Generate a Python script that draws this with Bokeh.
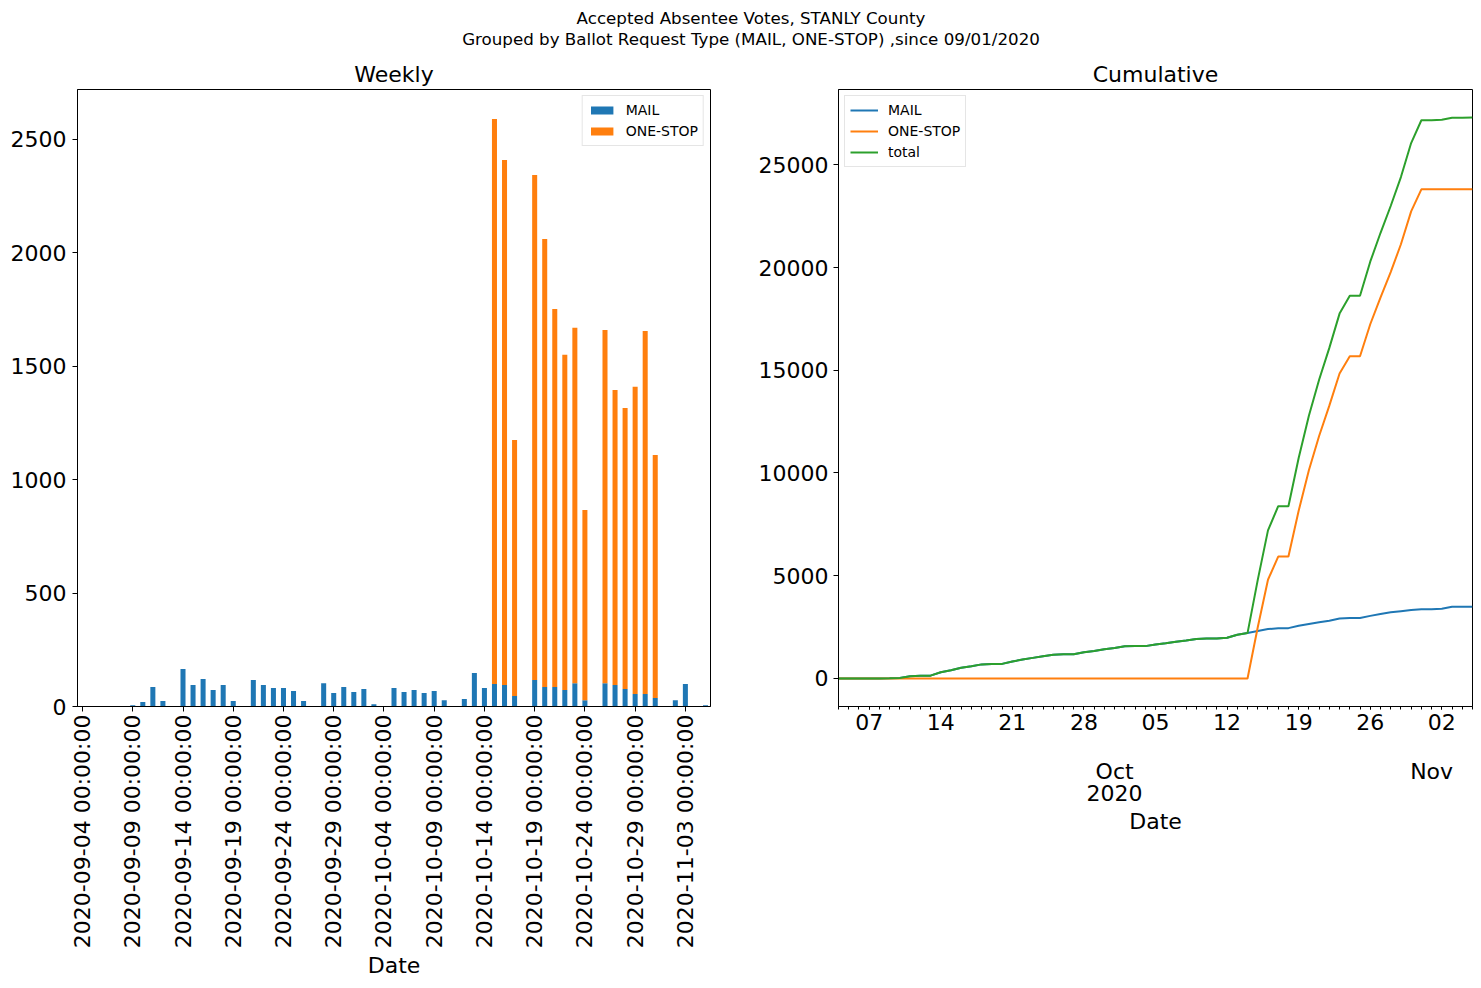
import math
import numpy as np
import pandas as pd
from bokeh.plotting import figure
from bokeh.layouts import column, row
from bokeh.models import (Range1d, FixedTicker, LinearAxis, Legend, LegendItem,
                          Div, ColumnDataSource)
from bokeh.embed import file_html
from bokeh.resources import INLINE

# ---------------- data ----------------
start_date = "2020-09-04"
end_date = "2020-11-05"
dates = pd.date_range(start_date, end_date, freq="D")

mail = [0, 0, 0, 0, 0, 6, 20, 86, 24, 0,                 # Sep 4-13
        165, 95, 121, 73, 95, 24, 0,                     # Sep 14-20
        117, 95, 81, 81, 68, 24, 0,                      # Sep 21-27
        103, 59, 86,                                     # Sep 28-30
        64, 77, 10, 0,                                   # Oct 1-4
        81, 64, 73, 59, 68, 28, 0,                       # Oct 5-11
        33, 148, 81, 99, 95, 46, 0,                      # Oct 12-18
        117, 86, 86, 73, 103, 28, 0,                     # Oct 19-25
        103, 95, 77, 55, 55, 37,                         # Oct 26-31
        0, 28, 99, 0, 5]                                 # Nov 1-5

onestop = [0] * 27 + \
          [0] * 14 + \
          [2491, 2314, 1129, 0,                          # Oct 15-18
           2226, 1975, 1666, 1477, 1566, 838, 0,         # Oct 19-25
           1557, 1300, 1239, 1354, 1600, 1072,           # Oct 26-31
           0, 0, 0, 0, 0]                                # Nov 1-5

series_names = ["MAIL", "ONE-STOP"]
colors = ["#1f77b4", "#ff7f0e", "#2ca02c"]
suptitle = ["Accepted Absentee Votes, STANLY County",
            "Grouped by Ballot Request Type (MAIL, ONE-STOP) ,since 09/01/2020"]

FONT = "DejaVu Sans"
TICK_FS = "22px"

mail_a = np.array(mail, dtype=float)
one_a = np.array(onestop, dtype=float)
total_daily = mail_a + one_a
cum_mail = np.cumsum(mail_a)
cum_one = np.cumsum(one_a)
cum_tot = cum_mail + cum_one

TOP = 40
BOT = 280
H = TOP + 617 + BOT


def style_common(p):
    p.background_fill_color = "white"
    p.border_fill_color = "white"
    p.outline_line_color = "black"
    p.outline_line_width = 1
    p.xgrid.visible = False
    p.ygrid.visible = False
    p.title.text_font = FONT
    p.title.text_font_size = TICK_FS
    p.title.text_font_style = "normal"
    p.title.text_color = "black"
    p.title.align = "center"
    p.title.standoff = 5
    for ax in p.axis:
        ax.axis_line_color = "black"
        ax.major_tick_line_color = "black"
        ax.minor_tick_line_color = "black"
        ax.major_tick_in = 0
        ax.minor_tick_in = 0
        ax.major_label_text_font = FONT
        ax.major_label_text_font_size = TICK_FS
        ax.major_label_text_color = "black"
        ax.axis_label_text_font = FONT
        ax.axis_label_text_font_size = TICK_FS
        ax.axis_label_text_font_style = "normal"
        ax.axis_label_text_color = "black"


# ---------------- left: Weekly ----------------
idx = list(range(len(dates)))
src1 = ColumnDataSource(dict(x=idx, MAIL=mail, ONESTOP=onestop))
p1 = figure(width=753, height=H,
            x_range=Range1d(-0.5, len(dates) - 0.5),
            y_range=Range1d(0, float(total_daily.max()) * 1.05),
            output_backend="svg", toolbar_location=None,
            min_border_left=77, min_border_right=43,
            min_border_top=TOP, min_border_bottom=BOT,
            title="Weekly")
rs = p1.vbar_stack(["MAIL", "ONESTOP"], x="x", width=0.5, color=colors[:2],
                   line_width=0, source=src1)
style_common(p1)

xt = list(range(0, len(dates), 5))
p1.xaxis.ticker = FixedTicker(ticks=xt, minor_ticks=[])
p1.xaxis.major_label_overrides = {i: dates[i].strftime("%Y-%m-%d %H:%M:%S") for i in xt}
p1.xaxis.major_label_orientation = math.pi / 2
p1.xaxis.major_tick_out = 5
p1.xaxis.major_label_standoff = 3
p1.xaxis.axis_label = "Date"
p1.xaxis.axis_label_standoff = 2
p1.yaxis.ticker = FixedTicker(ticks=[0, 500, 1000, 1500, 2000, 2500], minor_ticks=[])
p1.yaxis.major_tick_out = 5
p1.yaxis.major_label_standoff = 6

leg1 = Legend(items=[LegendItem(label=series_names[0], renderers=[rs[0]]),
                     LegendItem(label=series_names[1], renderers=[rs[1]])],
              location="top_right")
p1.add_layout(leg1)

# ---------------- right: Cumulative ----------------
src2 = ColumnDataSource(dict(d=dates, m=cum_mail, o=cum_one, t=cum_tot))
span = float(cum_tot.max())
p2 = figure(width=720, height=H, x_axis_type="datetime",
            x_range=Range1d(dates[0], dates[-1]),
            y_range=Range1d(-0.05 * span, 1.05 * span),
            output_backend="svg", toolbar_location=None,
            min_border_left=85, min_border_right=1,
            min_border_top=TOP, min_border_bottom=BOT,
            title="Cumulative")
l1 = p2.line("d", "m", source=src2, line_color=colors[0], line_width=2)
l2 = p2.line("d", "o", source=src2, line_color=colors[1], line_width=2)
l3 = p2.line("d", "t", source=src2, line_color=colors[2], line_width=2)

ms = (dates.asi8 // 10**6).astype(float)
mondays = [m for m, d in zip(ms, dates) if d.weekday() == 0]
mon_labels = {m: d.strftime("%d") for m, d in zip(ms, dates) if d.weekday() == 0}
month_starts = [m for m, d in zip(ms, dates) if d.day == 1]
month_labels = {}
for m, d in zip(ms, dates):
    if d.day == 1:
        month_labels[m] = d.strftime("%b") + ("\n" + d.strftime("%Y") if d.month == 10 else "")

p2.xaxis.ticker = FixedTicker(ticks=mondays, minor_ticks=list(ms))
p2.xaxis.major_label_overrides = mon_labels
ax2 = LinearAxis(ticker=FixedTicker(ticks=month_starts, minor_ticks=[]),
                 major_label_overrides=month_labels)
p2.add_layout(ax2, "below")
style_common(p2)
p2.xaxis[0].major_tick_out = 3
p2.xaxis[0].minor_tick_out = 3
p2.xaxis[0].major_label_standoff = 4
ax2.axis_line_color = None
ax2.major_tick_out = 0
ax2.major_tick_line_color = None
ax2.major_label_standoff = 26
ax2.major_label_text_line_height = 0.88
ax2.axis_label = "Date"
ax2.axis_label_standoff = 0
p2.yaxis.ticker = FixedTicker(ticks=[0, 5000, 10000, 15000, 20000, 25000], minor_ticks=[])
p2.yaxis.major_tick_out = 5
p2.yaxis.major_label_standoff = 5

leg2 = Legend(items=[LegendItem(label="MAIL", renderers=[l1]),
                     LegendItem(label="ONE-STOP", renderers=[l2]),
                     LegendItem(label="total", renderers=[l3])],
              location="top_left")
p2.add_layout(leg2)

for lg in (leg1, leg2):
    lg.label_text_font = FONT
    lg.label_text_font_size = "14px"
    lg.label_text_color = "black"
    lg.label_height = 18
    lg.glyph_width = 28
    lg.glyph_height = 10
    lg.spacing = 3
    lg.padding = 5
    lg.margin = 6
    lg.label_standoff = 10
    lg.border_line_color = "#cccccc"
    lg.border_line_width = 1
    lg.background_fill_color = "white"
    lg.background_fill_alpha = 0.8

title_div = Div(
    text='<div style="box-sizing:border-box;width:1470px;padding-left:32px;padding-top:8px;'
         'text-align:center;font-family:\'DejaVu Sans\';font-size:16.7px;line-height:21px;'
         'color:black;">'
         + suptitle[0] + "<br>" + suptitle[1] + "</div>",
    width=1470, height=49, margin=(0, 0, 0, 0))

p1.margin = (0, 0, 0, 0)
p2.margin = (0, 0, 0, 0)
layout = column(title_div, row(p1, p2, spacing=0), spacing=0)

open("out.html", "w").write(file_html(layout, INLINE))
